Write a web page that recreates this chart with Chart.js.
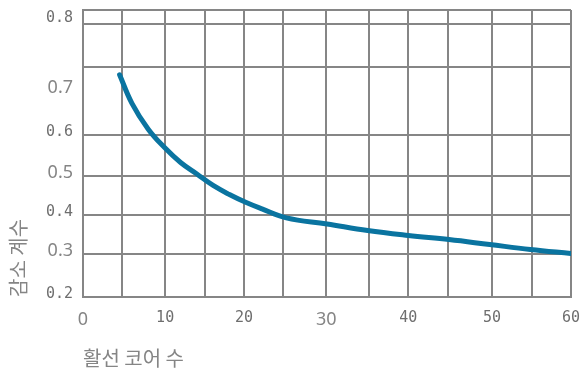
<!DOCTYPE html>
<html lang="ko">
<head>
<meta charset="utf-8">
<script src="https://cdn.jsdelivr.net/npm/chart.js@4/dist/chart.umd.min.js"></script>
<style>
  html, body { margin: 0; padding: 0; background: #fff; }
  #contenedor { width: 584px; height: 374px; }
</style>
</head>
<body>
<div id="contenedor"><canvas id="grafico"></canvas></div>
<script>
// 활선 코어 수에 따른 감소 계수
const coreCounts = [4.5, 6, 8, 10, 12, 14, 16, 18, 20, 22, 25, 30, 35, 40, 45, 50, 55, 60];
const reductionFactor = [0.742, 0.673, 0.610, 0.565, 0.528, 0.500, 0.472, 0.450, 0.431, 0.415, 0.393, 0.378, 0.362, 0.350, 0.340, 0.328, 0.316, 0.306];

// 눈금 위치와 라벨 (빈 문자열 = 격자선만)
const xTicks = [0, 4.8, 10.1, 15, 19.8, 24.6, 29.9, 35.2, 40, 44.9, 50.3, 55.2, 60];
const xLabels = ['0', '', '10', '', '20', '', '30', '', '40', '', '50', '', '60'];
const yTicks = [0.2, 0.304, 0.4, 0.496, 0.594, 0.702, 0.76, 0.866, 0.873, 0.9];
const yLabels = ['0.2', '0.3', '0.4', '0.5', '0.6', '0.7', '', '', '0.8', ''];
const yGrid = [true, true, true, true, true, false, true, true, false, true];

// 이 라벨들은 고정폭이 아닌 글꼴로 찍힌다
const sansLabels = ['0', '30', '0.3', '0.5', '0.7'];

const gris = '#868686';
const textoGris = '#6e6e6e';
const textoClaro = '#858585';

function fuenteTick(label) {
    if (sansLabels.includes(label)) {
        return { family: '"Noto Sans", sans-serif', size: 18 };
    }
    return { family: '"DejaVu Sans Mono", monospace', size: 15 };
}

function colorTick(label) {
    return sansLabels.includes(label) ? textoClaro : textoGris;
}

// 축 크기를 고정하고 라벨 때문에 생기는 여백은 없앤다
function fijarEje(scale, size) {
    if (scale.isHorizontal()) {
        scale.height = size;
    } else {
        scale.width = size;
    }
    scale.paddingTop = 0;
    scale.paddingBottom = 0;
    scale.paddingLeft = 0;
    scale.paddingRight = 0;
}

const ctx = document.getElementById('grafico').getContext('2d');
new Chart(ctx, {
    type: 'line',
    data: {
        datasets: [{
            data: coreCounts.map((x, i) => ({ x: x, y: reductionFactor[i] })),
            borderColor: '#0a74a0',
            borderWidth: 5,
            borderCapStyle: 'round',
            borderJoinStyle: 'round',
            tension: 0.4,
            pointRadius: 0,
            fill: false
        }]
    },
    options: {
        responsive: true,
        maintainAspectRatio: false,
        animation: false,
        layout: { padding: { top: 10, right: 13, left: 0, bottom: 0 } },
        plugins: {
            legend: { display: false },
            tooltip: { enabled: false }
        },
        scales: {
            x: {
                type: 'linear',
                min: 0,
                max: 60,
                afterBuildTicks: (scale) => { scale.ticks = xTicks.map(v => ({ value: v })); },
                afterFit: (scale) => fijarEje(scale, 77),
                grid: { color: gris, lineWidth: 2, drawTicks: false },
                border: { color: gris, width: 2 },
                ticks: {
                    autoSkip: false,
                    maxRotation: 0,
                    padding: 12,
                    color: (c) => colorTick(xLabels[c.index]),
                    font: (c) => fuenteTick(xLabels[c.index]),
                    callback: (value, index) => xLabels[index]
                },
                title: {
                    display: true,
                    text: '활선 코어 수',
                    align: 'start',
                    color: textoClaro,
                    font: { family: '"Noto Sans CJK KR", sans-serif', size: 20 },
                    padding: { top: 4, bottom: 4 }
                }
            },
            y: {
                min: 0.2,
                max: 0.9,
                afterBuildTicks: (scale) => { scale.ticks = yTicks.map(v => ({ value: v })); },
                afterFit: (scale) => fijarEje(scale, 83),
                grid: {
                    color: (c) => yGrid[c.index] ? gris : 'rgba(0,0,0,0)',
                    lineWidth: 2,
                    drawTicks: false
                },
                border: { color: gris, width: 2 },
                ticks: {
                    autoSkip: false,
                    padding: 10,
                    labelOffset: -3,
                    color: (c) => colorTick(yLabels[c.index]),
                    font: (c) => fuenteTick(yLabels[c.index]),
                    callback: (value, index) => yLabels[index]
                },
                title: {
                    display: true,
                    text: '감소 계수',
                    align: 'start',
                    color: textoClaro,
                    font: { family: '"Noto Sans CJK KR", sans-serif', size: 20 },
                    padding: { top: 6, bottom: 0 }
                }
            }
        }
    }
});
</script>
</body>
</html>
